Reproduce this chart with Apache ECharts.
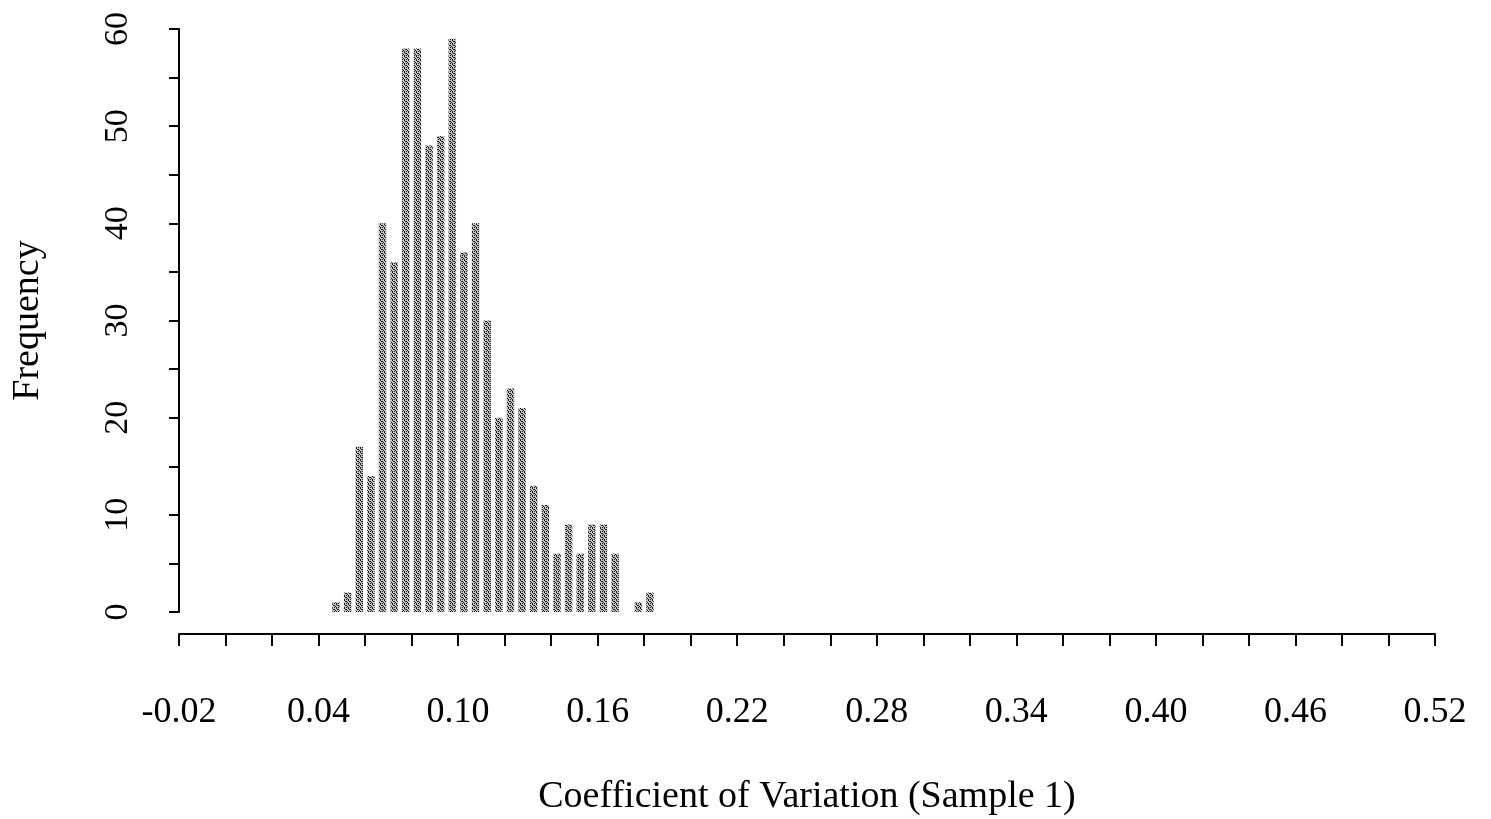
<!DOCTYPE html>
<html>
<head>
<meta charset="utf-8">
<script src="https://cdn.jsdelivr.net/npm/echarts@6/dist/echarts.min.js"></script>
<style>
  html, body { margin: 0; padding: 0; background: #fff; }
  #chart { width: 1491px; height: 819px; }
</style>
</head>
<body>
<div id="chart"></div>
<script>
// Histogram of the coefficient of variation, bins of width 0.005
const binCenters = [0.0475, 0.0525, 0.0575, 0.0625, 0.0675, 0.0725, 0.0775, 0.0825,
                    0.0875, 0.0925, 0.0975, 0.1025, 0.1075, 0.1125, 0.1175, 0.1225,
                    0.1275, 0.1325, 0.1375, 0.1425, 0.1475, 0.1525, 0.1575, 0.1625,
                    0.1675, 0.1725, 0.1775, 0.1825];
const counts = [1, 2, 17, 14, 40, 36, 58, 58,
                48, 49, 59, 37, 40, 30, 20, 23,
                21, 13, 11, 6, 9, 6, 9, 9,
                6, 0, 1, 2];
const xTicks = [-0.02, 0.04, 0.10, 0.16, 0.22, 0.28, 0.34, 0.40, 0.46, 0.52];
const yTicks = [0, 10, 20, 30, 40, 50, 60];

const FONT = 'Liberation Serif';
const BAR_HALF = 0.0016; // half the drawn bar width, in axis units

// Stippled grey fill for the bars
function makePattern() {
  const c = document.createElement('canvas');
  c.width = 4; c.height = 4;
  const g = c.getContext('2d');
  g.fillStyle = '#c4c4c4';
  g.fillRect(0, 0, 4, 4);
  g.fillStyle = '#1a1a1a';
  const dark = [[0,0],[1,1],[2,1],[3,2],[0,3],[2,3]];
  dark.forEach(([x, y]) => g.fillRect(x, y, 1, 1));
  return c;
}
const pattern = { image: makePattern(), repeat: 'repeat' };

const tickLabelSet = new Set(xTicks.map(v => Math.round(v * 100)));

const chart = echarts.init(document.getElementById('chart'));
chart.setOption({
  animation: false,
  backgroundColor: '#fff',
  grid: { left: 179, right: 56, top: 29, bottom: 207, containLabel: false, outerBoundsMode: 'none' },
  xAxis: {
    type: 'value',
    min: -0.02, max: 0.52, interval: 0.02,
    offset: 22,
    name: 'Coefficient of Variation (Sample 1)',
    nameLocation: 'middle',
    nameGap: 144,
    nameTextStyle: { fontFamily: FONT, fontSize: 38, color: '#000' },
    axisLine: { show: true, onZero: false, lineStyle: { color: '#000', width: 2 } },
    axisTick: { show: true, length: 12, lineStyle: { color: '#000', width: 2 } },
    axisLabel: {
      margin: 61,
      fontFamily: FONT, fontSize: 36, color: '#000',
      formatter: v => tickLabelSet.has(Math.round(v * 100)) ? v.toFixed(2) : ''
    },
    splitLine: { show: false }
  },
  yAxis: {
    type: 'value',
    min: 0, max: 60, interval: 5,
    name: 'Frequency',
    nameLocation: 'middle',
    nameGap: 132,
    nameRotate: 90,
    nameTextStyle: { fontFamily: FONT, fontSize: 38, color: '#000' },
    axisLine: { show: true, onZero: false, lineStyle: { color: '#000', width: 2 } },
    axisTick: { show: true, length: 10, lineStyle: { color: '#000', width: 2 } },
    axisLabel: {
      rotate: 90,
      margin: 44,
      fontFamily: FONT, fontSize: 34, color: '#000',
      formatter: v => yTicks.includes(v) ? String(v) : ''
    },
    splitLine: { show: false }
  },
  series: [{
    type: 'custom',
    data: binCenters.map((x, i) => [x, counts[i]]),
    renderItem: function (params, api) {
      const x = api.value(0), y = api.value(1);
      if (!y) return null;
      const p0 = api.coord([x - BAR_HALF, 0]);
      const p1 = api.coord([x + BAR_HALF, y]);
      return {
        type: 'rect',
        shape: { x: p0[0], y: p1[1], width: p1[0] - p0[0], height: p0[1] - p1[1] },
        style: { fill: pattern }
      };
    }
  }]
});
</script>
</body>
</html>
